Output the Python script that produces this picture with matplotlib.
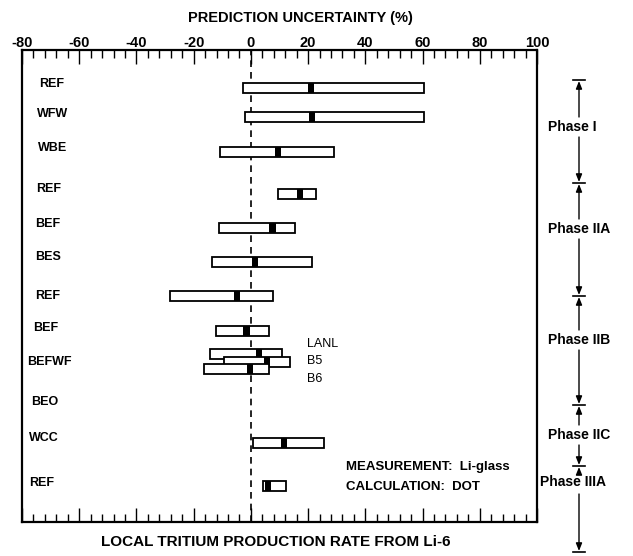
import matplotlib
matplotlib.use("Agg")
import matplotlib.pyplot as plt

plt.rcParams['font.family'] = ['Liberation Sans', 'DejaVu Sans']

# ---------------- data ----------------
row_labels = ["REF", "WFW", "WBE", "REF", "BEF", "BES", "REF", "BEF", "BEFWF", "BEO", "WCC", "REF"]
bar_names = ["REF", "WFW", "WBE", "REF", "BEF", "BES", "REF", "BEF", "LANL", "B5", "B6", "WCC", "REF"]
low_vals = [-2.7, -2.2, -10.7, 9.5, -11.1, -13.6, -28.2, -12.2, -14.2, -9.3, -16.5, 0.8, 4.3]
center_vals = [21.1, 21.3, 9.4, 17.2, 7.6, 1.5, -4.8, -1.5, 2.9, 5.7, -0.2, 11.5, 6.1]
high_vals = [60.5, 60.5, 28.9, 22.6, 15.4, 21.3, 7.9, 6.4, 10.8, 13.8, 6.4, 25.4, 12.2]
series_tags = ["LANL", "B5", "B6"]
phase_names = ["Phase I", "Phase IIA", "Phase IIB", "Phase IIC", "Phase IIIA"]
x_ticks = [-80, -60, -40, -20, 0, 20, 40, 60, 80, 100]
x_tick_labels = ["-80", "-60", "-40", "-20", "0", "20", "40", "60", "80", "100"]

# ---------------- layout ----------------
W, H = 633, 556
bar_y = [3.8, 6.67, 10.17, 14.4, 17.75, 21.2, 24.6, 28.1, 30.35, 31.2, 31.9, 39.25, 43.6]
label_y = [3.4, 6.4, 9.8, 13.9, 17.4, 20.7, 24.6, 27.8, 31.2, 35.2, 38.8, 43.3]
label_x = [-74.1, -74.8, -74.5, -75.2, -75.5, -75.5, -75.5, -76.2, -78.3, -76.9, -77.6, -77.6]
tag_y = [29.4, 31.1, 32.9]
bar_h = 1.0
sq_w = 2.2

fig = plt.figure(figsize=(W / 100, H / 100), dpi=100)
ax = fig.add_axes([22 / W, 1 - 522 / H, (537 - 22) / W, (522 - 50) / H])
ax.set_xlim(-80, 100)
ax.set_ylim(47.2, 0)

z = 3
for y, lo, c, hi in zip(bar_y, low_vals, center_vals, high_vals):
    ax.barh(y, hi - lo, left=lo, height=bar_h, facecolor='white',
            edgecolor='black', linewidth=1.3, zorder=z)
    ax.barh(y, sq_w, left=c - sq_w / 2, height=bar_h, color='black',
            linewidth=0, zorder=z + 1)
    z += 2

ax.axvline(0, color='black', linestyle=(0, (4, 3)), linewidth=1.2, zorder=2)

for lab, lx, ly in zip(row_labels, label_x, label_y):
    ax.text(lx, ly, lab, ha='left', va='center', fontsize=9, fontweight='bold')

for tag, ty in zip(series_tags, tag_y):
    ax.text(19.6, ty, tag, ha='left', va='center', fontsize=9)

ax.text(33.2, 41.7, "MEASUREMENT:  Li-glass", ha='left', va='center', fontsize=9.5, fontweight='bold')
ax.text(33.2, 43.7, "CALCULATION:  DOT", ha='left', va='center', fontsize=9.5, fontweight='bold')

# axes / ticks
ax.set_xticks(x_ticks)
ax.set_xticklabels(x_tick_labels, fontsize=10.5, fontweight='bold')
ax.set_xticks(list(range(-80, 101, 4)), minor=True)
ax.set_yticks([])
ax.tick_params(axis='x', which='both', direction='in', top=True, bottom=True,
               labeltop=True, labelbottom=False, width=1.0, pad=-0.3)
ax.tick_params(axis='x', which='major', length=10)
ax.tick_params(axis='x', which='minor', length=6)
for s in ax.spines.values():
    s.set_linewidth(1.6)

fig.text(300 / W, 1 - 18 / H, "PREDICTION UNCERTAINTY (%)", ha='center', va='center',
         fontsize=10.5, fontweight='bold')
fig.text(276 / W, 1 - 542 / H, "LOCAL TRITIUM PRODUCTION RATE FROM Li-6", ha='center',
         va='center', fontsize=11, fontweight='bold')

# ---------------- phase brackets (overlay in pixel units) ----------------
ov = fig.add_axes([0, 0, 1, 1], facecolor='none')
ov.set_xlim(0, W)
ov.set_ylim(H, 0)
ov.axis('off')
X = 579
bounds = [80, 183, 296, 405, 466, 552]
phase_y = [127, 229, 340, 435, 482]
phase_x = [548, 548, 548, 548, 540]
gap_up = [10, 10, 10, 10, 10]
gap_dn = [10, 10, 10, 10, 12]
astyle = dict(arrowstyle='-|>,head_length=0.45,head_width=0.18', lw=1.0, color='black',
              shrinkA=0, shrinkB=0)
for i, name in enumerate(phase_names):
    t, b, L = bounds[i], bounds[i + 1], phase_y[i]
    ov.text(phase_x[i], L, name, ha='left', va='center', fontsize=10, fontweight='bold')
    ov.annotate('', xy=(X, t + 1), xytext=(X, L - gap_up[i]), arrowprops=astyle)
    ov.annotate('', xy=(X, b - 1), xytext=(X, L + gap_dn[i]), arrowprops=astyle)
for bb in bounds:
    ov.plot([X - 6, X + 6], [bb, bb], color='black', lw=1.2)

fig.savefig("out.png", dpi=100)
